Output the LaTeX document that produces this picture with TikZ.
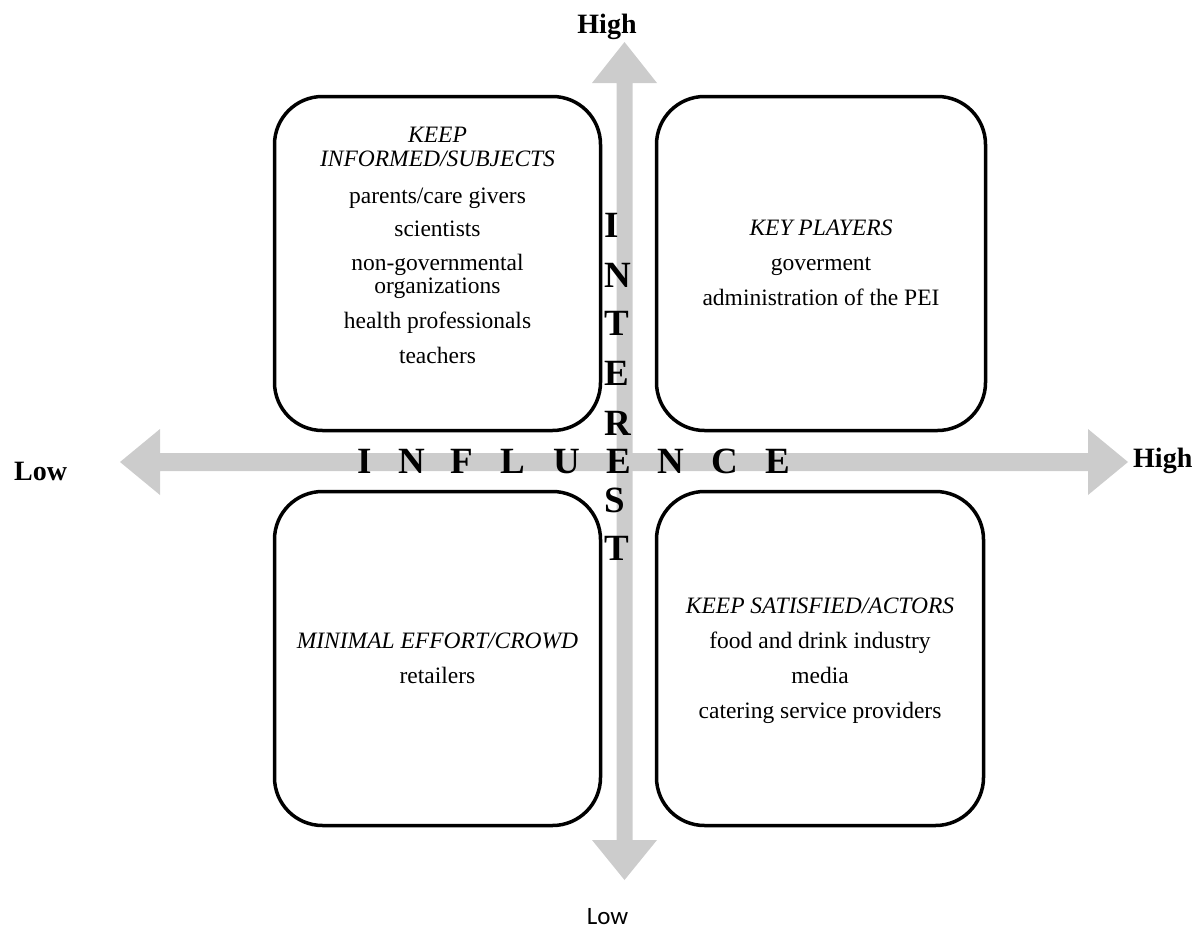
\documentclass[tikz,border=0pt]{standalone}
\usepackage{fontspec}
\setmainfont{Liberation Serif}
\newfontfamily\calibrifont{Carlito}
\definecolor{arrowgray}{RGB}{204,204,204}
\begin{document}
\begin{tikzpicture}[x=1pt,y=-1pt,
  quad/.style={draw=black, line width=3.5pt, rounded corners=48pt, inner sep=0pt},
  hdr/.style={anchor=base, inner sep=0pt, font=\fontsize{23.5}{28}\selectfont\itshape},
  body/.style={anchor=base, inner sep=0pt, font=\fontsize{23.5}{28}\selectfont},
  axislbl/.style={inner sep=0pt, font=\fontsize{28}{32}\selectfont\bfseries},
  bigletter/.style={inner sep=0pt, font=\fontsize{37}{40}\selectfont\bfseries},
  vletter/.style={bigletter, anchor=base west},
  hletter/.style={bigletter, anchor=base}]
\useasboundingbox (0,0) rectangle (1197,929);

% block arrows
\fill[arrowgray] (120,462) -- (160,429) -- (160,453) -- (1088,453) -- (1088,429)
  -- (1128,462) -- (1088,495) -- (1088,471) -- (160,471) -- (160,495) -- cycle;
\fill[arrowgray] (624.5,42) -- (657,83) -- (632.5,83) -- (632.5,840) -- (657,840)
  -- (624.5,880) -- (592,840) -- (616.5,840) -- (616.5,83) -- (592,83) -- cycle;

% boxes
\node[quad, minimum width=326pt, minimum height=334pt] (tl) at (437.5,263.5) {};
\node[quad, minimum width=329pt, minimum height=334pt] (tr) at (821,263.5) {};
\node[quad, minimum width=326pt, minimum height=334pt] (bl) at (437.5,658.5) {};
\node[quad, minimum width=327pt, minimum height=334pt] (br) at (820,658.5) {};

% top-left texts
\node[hdr] (tlh1) at (437.5,142) {KEEP};
\node[hdr] (tlh2) at (437.5,166) {INFORMED/SUBJECTS};
\node[body] (tl1) at (437.5,203) {parents/care givers};
\node[body] (tl2) at (437.5,236) {scientists};
\node[body] (tl3) at (437.5,270) {non-governmental};
\node[body] (tl4) at (437.5,293) {organizations};
\node[body] (tl5) at (437.5,328) {health professionals};
\node[body] (tl6) at (437.5,363) {teachers};

% top-right texts
\node[hdr] (trh) at (821,235) {KEY PLAYERS};
\node[body] (tr1) at (821,270) {goverment};
\node[body] (tr2) at (821,305) {administration of the PEI};

% bottom-left texts
\node[hdr] (blh) at (437.5,648) {MINIMAL EFFORT/CROWD};
\node[body] (bl1) at (437.5,683) {retailers};

% bottom-right texts
\node[hdr] (brh) at (820,613) {KEEP SATISFIED/ACTORS};
\node[body] (br1) at (820,648) {food and drink industry};
\node[body] (br2) at (820,683) {media};
\node[body] (br3) at (820,718) {catering service providers};

% axis end labels
\node[axislbl, anchor=base] (hightop) at (607,33) {High};
\node[axislbl, anchor=base west] (lowleft) at (14,480) {Low};
\node[axislbl, anchor=base west] (highright) at (1133,467) {High};
\node[inner sep=0pt, anchor=base, font=\calibrifont\fontsize{25}{30}\selectfont] (lowbottom) at (607.5,924) {Low};

% INFLUENCE
\node[hletter] (f1) at (364.5,473) {I};
\node[hletter] (f2) at (411.5,473) {N};
\node[hletter] (f3) at (461.5,473) {F};
\node[hletter] (f4) at (512.5,473) {L};
\node[hletter] (f5) at (566.5,473) {U};
\node[hletter] (f6) at (618.5,473) {E};
\node[hletter] (f7) at (670.5,473) {N};
\node[hletter] (f8) at (724.5,473) {C};
\node[hletter] (f9) at (777.5,473) {E};

% INTEREST (E shared with INFLUENCE)
\node[vletter] (i1) at (604,237) {I};
\node[vletter] (i2) at (604,287) {N};
\node[vletter] (i3) at (604,335) {T};
\node[vletter] (i4) at (604,385) {E};
\node[vletter] (i5) at (604,435) {R};
\node[vletter] (i7) at (604,512) {S};
\node[vletter] (i8) at (604,560) {T};
\end{tikzpicture}
\end{document}
